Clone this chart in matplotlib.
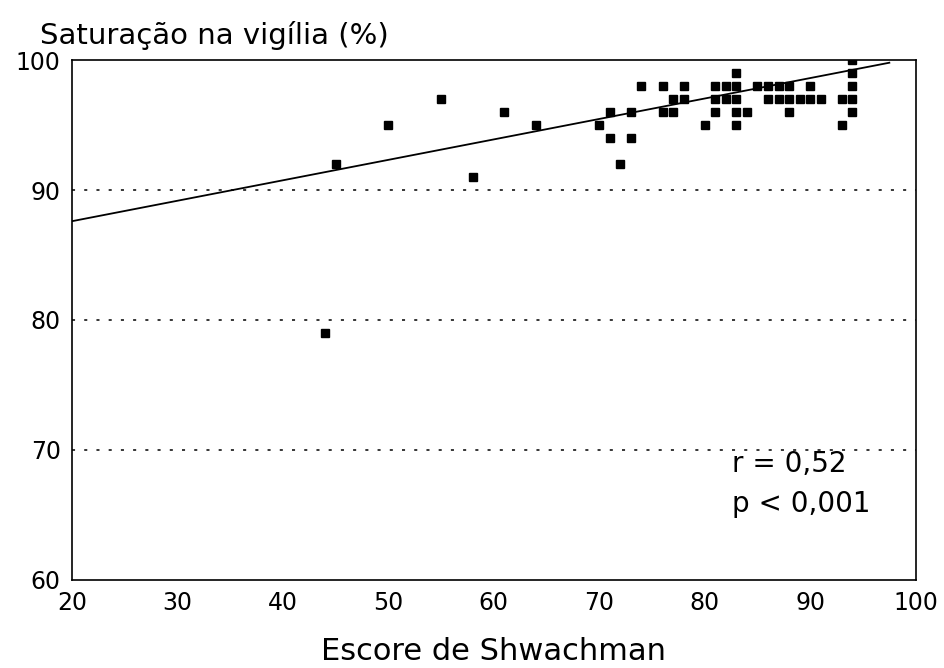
"""Saturação na vigília vs escore de Shwachman (scatter + reta de regressão)."""
import matplotlib
matplotlib.use('Agg')
import matplotlib.pyplot as plt

plt.rcParams['font.family'] = ['DejaVu Sans']

# Escore de Shwachman (x) e saturação na vigília em % (y)
escore = [44, 45, 50, 55, 58, 61, 64,
          70, 71, 71, 72, 73, 73, 74,
          76, 76, 77, 77, 78, 78,
          80, 81, 81, 81, 82, 82,
          83, 83, 83, 83, 83, 84,
          85, 86, 86, 87, 87, 88, 88, 88,
          89, 90, 90, 91,
          93, 93, 94, 94, 94, 94, 94]
saturacao = [79, 92, 95, 97, 91, 96, 95,
             95, 96, 94, 92, 96, 94, 98,
             98, 96, 97, 96, 98, 97,
             95, 98, 97, 96, 98, 97,
             99, 98, 97, 96, 95, 96,
             98, 98, 97, 98, 97, 98, 97, 96,
             97, 98, 97, 97,
             97, 95, 100, 99, 98, 97, 96]

# Reta de regressão (extremos)
reta_x = [20, 97.5]
reta_y = [87.6, 99.8]

x_ticks = [20, 30, 40, 50, 60, 70, 80, 90, 100]
y_ticks = [60, 70, 80, 90, 100]
grid_y = [70, 80, 90]

fig = plt.figure(figsize=(9.45, 6.68), dpi=100)
ax = fig.add_axes([0.076, 0.132, 0.893, 0.778])

for g in grid_y:
    ax.axhline(g, color='black', linewidth=1.1, linestyle=(0, (2, 6)), zorder=1)

ax.plot(reta_x, reta_y, color='black', linewidth=1.3, zorder=2)
ax.plot(escore, saturacao, linestyle='none', marker='s', markersize=5.5,
        color='black', zorder=3)

ax.set_xlim(20, 100)
ax.set_ylim(60, 100)
ax.set_xticks(x_ticks)
ax.set_yticks(y_ticks)
ax.tick_params(length=0, labelsize=17)
ax.tick_params(axis='y', pad=8)
ax.tick_params(axis='x', pad=8)
for s in ax.spines.values():
    s.set_linewidth(1.2)

ax.text(82.6, 68.9, 'r = 0,52', fontsize=20, va='center', ha='left')
ax.text(82.6, 65.8, 'p < 0,001', fontsize=20, va='center', ha='left')

fig.text(0.042, 0.947, 'Saturação na vigília (%)', fontsize=21, ha='left', va='center')
ax.set_xlabel('Escore de Shwachman', fontsize=22, labelpad=16)

fig.savefig('out.png', dpi=100, facecolor='white')
